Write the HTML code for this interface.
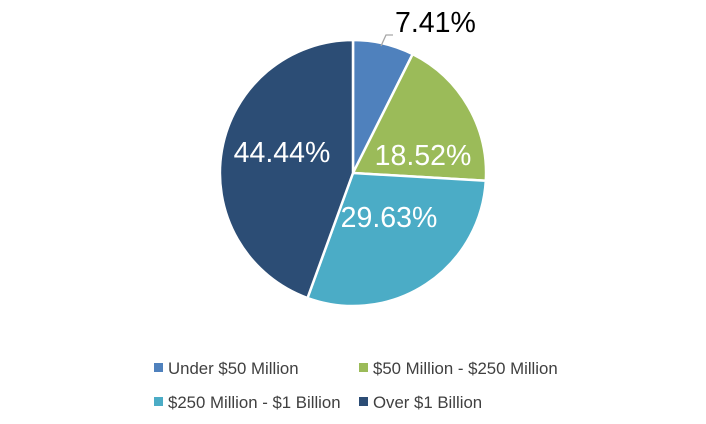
<!DOCTYPE html>
<html><head><meta charset="utf-8"><style>
html,body{margin:0;padding:0;background:#fff;}
svg{display:block;font-family:"Liberation Sans",sans-serif;}
</style></head><body>
<svg width="706" height="424" viewBox="0 0 706 424" xmlns="http://www.w3.org/2000/svg">
<g stroke="#fff" stroke-width="2.5" stroke-linejoin="round">
<path d="M353,173 L353,40 A133,133 0 0 1 412.7,54.1 Z" fill="#4F81BD"/>
<path d="M353,173 L412.7,54.1 A133,133 0 0 1 485.8,180.8 Z" fill="#9BBB59"/>
<path d="M353,173 L485.8,180.8 A133,133 0 0 1 307.5,298 Z" fill="#4BACC6"/>
<path d="M353,173 L307.5,298 A133,133 0 0 1 353,40 Z" fill="#2C4D75"/>
</g>
<polyline points="381,46 386,35 393,35" fill="none" stroke="#A6A6A6" stroke-width="1.3"/>
<text x="395" y="32" font-size="28.5" fill="#000">7.41%</text>
<g fill="#fff" font-size="28.5" text-anchor="middle">
<text x="423" y="165">18.52%</text>
<text x="389" y="227">29.63%</text>
<text x="282" y="162">44.44%</text>
</g>
<g font-size="16.8" fill="#404040">
<rect x="154" y="363" width="9" height="9" fill="#4F81BD"/>
<text x="168" y="374">Under $50 Million</text>
<rect x="359" y="363" width="9" height="9" fill="#9BBB59"/>
<text x="373" y="374">$50 Million - $250 Million</text>
<rect x="154" y="397" width="9" height="9" fill="#4BACC6"/>
<text x="168" y="408">$250 Million - $1 Billion</text>
<rect x="359" y="397" width="9" height="9" fill="#2C4D75"/>
<text x="373" y="408">Over $1 Billion</text>
</g>
</svg>
</body></html>
